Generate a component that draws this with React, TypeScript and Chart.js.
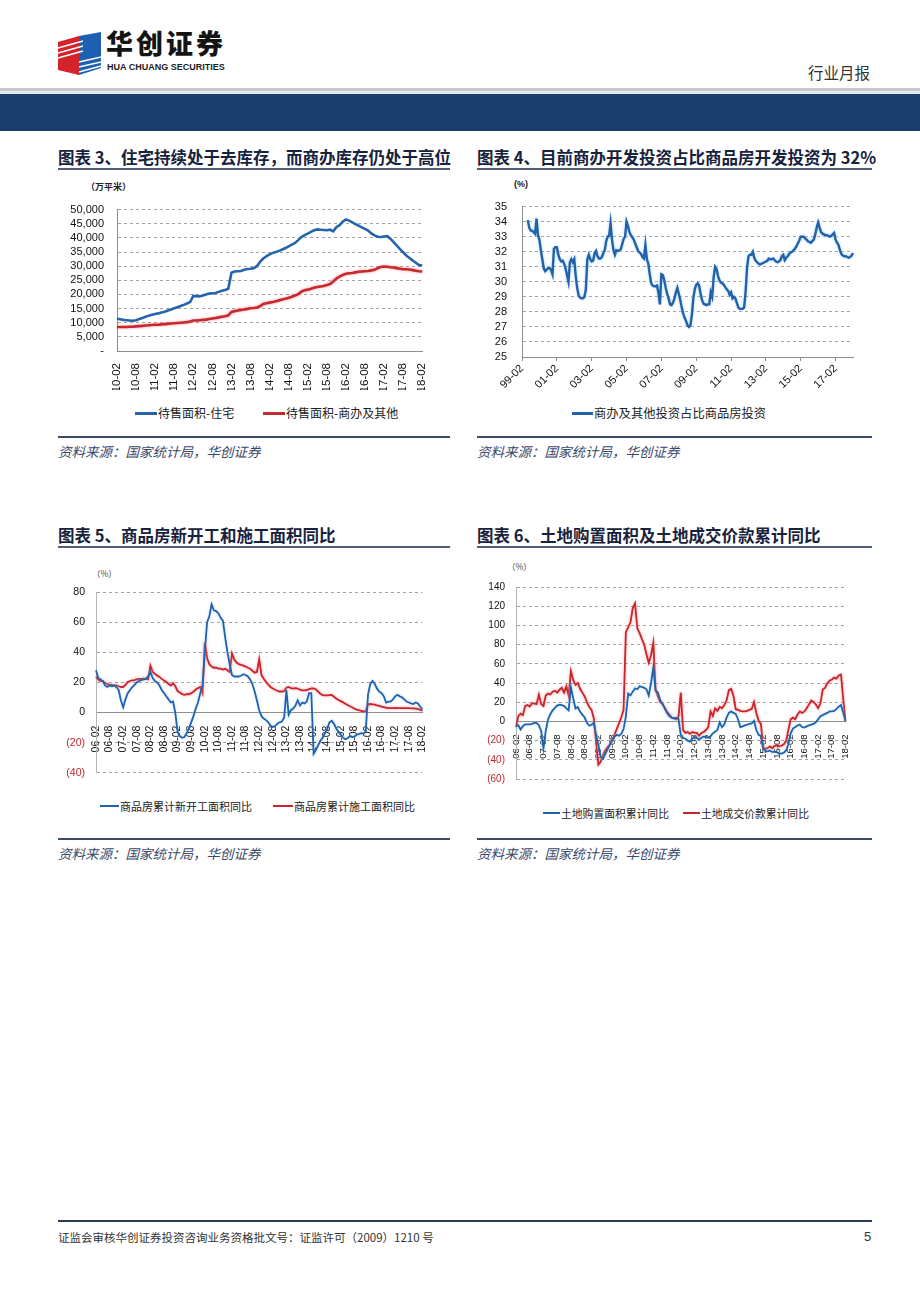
import React, { useEffect, useRef } from 'react';
import { Chart, registerables } from 'chart.js';

Chart.register(...registerables);

const NUM_FONT = '"Liberation Sans", Arial, sans-serif';
const CJK_FONT = '"Noto Sans CJK SC", "Noto Sans", sans-serif';

function monthLabels(y0: number, m0: number, y1: number, m1: number): string[] {
  const out: string[] = [];
  let y = y0, m = m0;
  while (y < y1 || (y === y1 && m <= m1)) {
    out.push(String(y % 100).padStart(2, '0') + '-' + String(m).padStart(2, '0'));
    m++;
    if (m > 12) { m = 1; y++; }
  }
  return out;
}

// ---------- Chart 3: 待售面积 (万平米), 10-02 .. 18-02 monthly ----------
const ch3Labels = monthLabels(2010, 2, 2018, 2);
const ch3Residential = [
  11400, 11200, 11000, 10900, 10800, 10700, 10900, 11300, 11700, 12100, 12500,
  12800, 13100, 13300, 13600, 13900, 14300, 14700, 15100, 15500, 15900, 16300, 16800,
  17300, 19500, 19400, 19300, 19600, 20000, 20300, 20400, 20500, 20900, 21300, 21600,
  22000, 27700, 28100, 28200, 28300, 28700, 29000, 29100, 29300, 30000, 31500, 32700,
  33500, 34200, 34700, 35000, 35400, 35900, 36400, 37000, 37600, 38200, 39200, 40300,
  41000, 41500, 42100, 42700, 43000, 42900, 42800, 42700, 42900, 42300, 43800, 44500,
  45700, 46500, 46100, 45500, 44900, 44300, 43700, 43200, 42600, 41600, 40900, 40400,
  40300, 40500, 40600, 39700, 38500, 37300, 36000, 34900, 33800, 32900, 32000, 31200,
  30400, 30200,
];
const ch3Commercial = [
  8500, 8500, 8500, 8500, 8550, 8600, 8700, 8800, 8900, 9000, 9100,
  9200, 9300, 9300, 9400, 9500, 9600, 9700, 9800, 9900, 10000, 10100, 10200,
  10400, 10800, 10800, 10900, 11000, 11100, 11300, 11500, 11700, 11900, 12100, 12300,
  12600, 13800, 14100, 14300, 14500, 14700, 14900, 15100, 15200, 15400, 15800, 16600,
  16900, 17100, 17300, 17600, 17900, 18200, 18500, 18800, 19200, 19600, 20100, 21000,
  21500, 21700, 22000, 22400, 22600, 22800, 23000, 23300, 23700, 24600, 25600, 26300,
  26900, 27300, 27500, 27600, 27800, 28000, 28100, 28200, 28300, 28500, 28700, 29300,
  29700, 29900, 29800, 29600, 29500, 29300, 29100, 28900, 28900, 28800, 28600, 28400,
  28200, 28100,
];
const ch3YTicks = [0, 5000, 10000, 15000, 20000, 25000, 30000, 35000, 40000, 45000, 50000];

// ---------- Chart 4: 商办投资占比 (%), 99-02 .. 18-02 monthly ----------
const ch4Labels = monthLabels(1999, 2, 2018, 2);
const ch4Share = [
  null, null, null, null,
  34.1, 33.6, 33.4, 33.4, 33.3, 33.2, 34.2, 33.1, 32.8, 32.1, 31.5, 30.9, 30.7, 30.8, 30.9, 30.9, 30.8, 30.5, 32.2, 32.3,
  32.3, 31.8, 31.5, 31.35, 31.4, 31.2, 30.9, 30.45, 30.0, 31.3, 31.5, 31.3,
  31.5, 30.4, 29.6, 29.1, 28.95, 28.9, 28.9, 29.0, 29.5, 31.5, 31.8, 31.5,
  31.35, 31.4, 31.9, 32.05, 31.7, 31.55, 31.55, 31.65, 31.9, 32.1, 32.7, 33.0,
  33.05, 33.9, 32.8, 32.1, 31.8, 32.1, 32.05, 32.1, 32.15, 32.5, 32.85, 33.0,
  34.0, 33.7, 33.3, 33.1, 32.95, 32.8, 32.55, 32.3, 32.05, 31.95, 31.85, 31.65,
  31.55, 32.45, 31.5, 31.2, 30.5, 29.9, 29.75, 29.7, 29.7, 29.75, 29.25, 28.5,
  30.5, 30.45, 30.1, 29.6, 29.2, 28.9, 28.5, 28.45, 28.6, 28.9, 29.3, 29.6,
  29.2, 28.8, 28.3, 27.9, 27.6, 27.4, 27.1, 27.0, 27.1, 27.8, 28.9, 29.5,
  29.8, 29.9, 29.75, 29.2, 28.8, 28.55, 28.5, 28.45, 28.5, 28.5, 29.3, 29.0,
  30.3, 31.0, 30.85, 30.4, 30.1, 29.95, 29.9, 29.8, 29.65, 29.5, 29.4, 29.15,
  29.3, 28.9, 29.0, 28.9, 28.6, 28.3, 28.2, 28.2, 28.2, 28.3, 29.3, 30.9,
  31.7, 31.8, 31.8, 32.0, 31.6, 31.4, 31.3, 31.2, 31.15, 31.2, 31.25, 31.3,
  31.35, 31.4, 31.55, 31.5, 31.5, 31.55, 31.45, 31.35, 31.3, 31.35, 31.45, 31.7,
  31.8, 31.45, 31.6, 31.7, 31.85, 31.95, 32.0, 32.1, 32.2, 32.35, 32.55, 32.75,
  33.0, 33.0, 33.0, 32.9, 32.8, 32.7, 32.65, 32.6, 32.7, 32.8, 33.15, 33.6,
  33.95, 33.6, 33.3, 33.2, 33.15, 33.1, 33.1, 33.05, 33.0, 33.05, 33.15, 33.25,
  32.8, 32.6, 32.45, 32.1, 31.85, 31.75, 31.7, 31.7, 31.65, 31.6, 31.65, 31.75,
  31.9,
];

// ---------- Chart 5: 新开工 / 施工面积同比 (%), 06-02 .. 18-02 ----------
const ch5Labels = monthLabels(2006, 2, 2018, 2);
const ch5NewStarts = [
  28.2, 23, 22, 21, 18, 17, 18, 17.5, 18, 17, 15, 8,
  3.5, 8.8, 12.9, 15, 17, 18.4, 20, 21, 21.6, 22, 22.4, 24,
  27, 23, 21, 20, 18, 15, 13, 10.8, 8.8, 6.7, 7.3, -0.4,
  -12.7, -15.7, -16.7, -16.3, -13.7, -10.6, -6.5, -2.4, 2.7, 6.7, 12.9, 18,
  40, 60, 64, 72, 68, 67.5, 66, 63, 61, 50, 40, 32,
  25, 24, 24, 24, 24.5, 25.5, 25, 24, 22, 19, 14, 8,
  1.5, -2.4, -4, -5, -6.5, -8.6, -9.6, -9, -7.5, -6.5, -6, -3.5,
  15, -1.4, 1.6, 2.7, 4.7, 8.2, 4.7, 6.7, 6.1, 7.3, 12.9, 12.9,
  -27.5, -25, -21.8, -18.8, -16.7, -13.7, -11, -6.5, -5.5, -7.5, -10.6, -12.7,
  -14.7, -16.7, -17.8, -17.1, -15.7, -16.3, -16, -14.7, -14.3, -13.7, -14, -12.7,
  11.8, 19, 21, 19, 15.9, 13.9, 12.9, 10.8, 6.7, 7.3, 7.3, 8.8,
  10.8, 11.8, 10.8, 10.2, 8.8, 7.3, 6.7, 6.1, 5.7, 6.7, 6.1, 4,
  2,
];
const ch5Construction = [
  24, 22, 21, 21, 19.6, 19, 18.4, 18.4, 18, 18, 17.5, 17,
  17, 18.4, 20.4, 21, 21.4, 21.6, 22, 22.4, 22.4, 22.6, 22.4, 22,
  31.2, 27, 25.7, 24.7, 23.7, 22.4, 21.4, 20.4, 19, 18, 19.6, 17.5,
  14.3, 13.3, 12.2, 11.8, 12.2, 12.2, 12.9, 13.9, 15.3, 16.3, 17, 12.9,
  46.5, 36.3, 32.2, 30.6, 29.8, 29.8, 29.2, 29.2, 28.6, 29.2, 28.2, 27,
  39.4, 35.3, 33.3, 32.2, 31.8, 31.2, 30.6, 29.8, 29.2, 27.8, 26.5, 27,
  35.5, 25, 22.5, 20.5, 18.5, 17, 16, 15.2, 14.5, 14, 14, 14.3,
  16.5, 17, 16.3, 16, 16.2, 16, 15.2, 14.8, 14.8, 15, 15.6, 16,
  16, 15.5, 14, 12.5, 11.6, 11.4, 11.4, 11.6, 11.8, 10.5, 9.4, 8.4,
  7.6, 6.8, 5.9, 5, 4.2, 3.5, 2.6, 2, 1.6, 1.2, 0.8, 0.8,
  5.5, 5.7, 5.5, 5.3, 4.8, 4.5, 4, 3.6, 3.2, 3, 3, 3,
  3.1, 3, 3, 3, 3, 2.9, 2.9, 2.8, 2.8, 2.6, 2.4, 1.8,
  1.2,
];

// ---------- Chart 6: 土地购置面积 / 成交价款累计同比 (%), 06-02 .. 18-02 ----------
const ch6Labels = monthLabels(2006, 2, 2018, 2);
const ch6LandArea = [
  -5, -4, -8.5, -5, -3, -3, -3, -2.5, -1.5, -1.5, -4, -10,
  -28, -10, 2, 7.5, 11.5, 14, 16.5, 17.5, 17, 16, 13.5, 11.5,
  35.5, 24, 13.5, 15, 10, 7, 4, -1.5, -4.5, -3.5, -1.5, -14,
  -25, -37, -39, -34, -29, -24.5, -19.5, -16, -14, -15, -13, -8,
  5, 29, 27, 31, 34.5, 33.5, 36.5, 36, 35, 33.5, 27, 40,
  56.5, 32, 30, 22, 18.5, 13.7, 8.8, 5.5, 4, 3.3, 3.5, 2.5,
  -14, -17, -18, -20, -21, -18, -16, -17, -19, -17, -16, -16,
  -17, -15.6, -12.4, -10.7, -9, -1, -5.9, -3.3, 3.9, 8.8, 10.4, 8.8,
  7.8, 2.3, -5.9, -5.2, -4.2, -3.3, -2.6, -2, 0.6, -9, -14, -15,
  -28.7, -31.3, -31.3, -30.3, -32, -31.3, -32, -33.5, -33.5, -32.6, -30.3, -23.8,
  -12.4, -7.5, -5.9, -4.2, -3.3, -5.9, -6.5, -5.2, -4.2, -3.3, -2.6, -1,
  2.3, 5.5, 6.5, 7.8, 8.8, 10.4, 10.4, 11, 13, 15.3, 17, 8.8,
  0,
];
const ch6LandPrice = [
  -6, 5.5, 8, 6.5, 16, 17, 15.5, 19, 18.5, 18, 28, 18,
  16, 27, 29, 28, 31, 32, 30, 33, 35, 30, 36.5, 27,
  52.5, 43, 38, 40, 34, 30, 26, 20, 15, 12, 3, -22,
  -45, -42, -35, -30, -27, -24, -20, -14, -8, -2, 4, 12,
  93, 98, 103, 118, 123, 97, 92, 86, 80, 70, 61, 69,
  82, 33, 26, 20, 18, 14, 10, 7, 4, 3, 2.3, 5,
  30, -9, -12, -11, -13, -11, -12, -12, -15, -12, -11, -9,
  -6, 10.4, 5.5, 13.7, 11, 15.3, 13.7, 17, 21.8, 32.6, 33.9, 26.7,
  12.7, 12, 11, 10.4, 10.4, 11, 12, 13, 20.2, 8.8, 0.6, -2.6,
  -27, -28.7, -27.7, -26, -28, -25.4, -24.8, -26, -25.4, -23.8, -20.5, -9,
  2.3, 3.9, 2.3, 7.2, 10.4, 8.8, 10.4, 13.7, 17.6, 21.8, 20.2, 17.6,
  13.7, 18.6, 33.2, 34.9, 39.7, 42.3, 43.6, 45.6, 44.6, 47.9, 48.9, 22,
  0,
];

// ---------- styling ----------
const GRID = '#a3a3a3';
const AXIS = '#8e8e8e';
const NEG_RED = '#c0282d';

const glowPlugin = {
  id: 'glow',
  beforeDatasetDraw(chart: any, args: any) {
    const ds = chart.data.datasets[args.index];
    if (!ds.glowColor) return;
    chart.ctx.save();
    chart.ctx.shadowColor = ds.glowColor;
    chart.ctx.shadowBlur = ds.glowBlur || 4;
  },
  afterDatasetDraw(chart: any, args: any) {
    const ds = chart.data.datasets[args.index];
    if (!ds.glowColor) return;
    chart.ctx.restore();
  },
};

const isHalfYear = (l: string) => /-(02|08)$/.test(l);
const isOddYearFeb = (l: string) => /-02$/.test(l) && parseInt(l.slice(0, 2), 10) % 2 === 1;

function lineDs(label: string, data: any[], color: string, width: number, glow?: string, blur?: number) {
  return {
    label, data, borderColor: color, backgroundColor: color, borderWidth: width,
    pointRadius: 0, tension: 0, fill: false, glowColor: glow, glowBlur: blur,
  };
}

function baseOptions(padding: any) {
  return {
    responsive: false,
    animation: false,
    layout: { padding },
    plugins: { legend: { display: false }, tooltip: { enabled: false }, title: { display: false } },
  };
}

function config3(): any {
  return {
    type: 'line',
    data: {
      labels: ch3Labels,
      datasets: [
        lineDs('待售面积-住宅', ch3Residential, '#2563ad', 2.6),
        lineDs('待售面积-商办及其他', ch3Commercial, '#c62a2e', 2.6, 'rgba(255,130,140,0.8)', 3),
      ],
    },
    options: {
      ...baseOptions({ top: 13, right: 8, left: 0, bottom: 0 }),
      scales: {
        x: {
          grid: { display: false },
          border: { display: true, color: AXIS, width: 1 },
          ticks: {
            autoSkip: false, minRotation: 90, maxRotation: 90, padding: 4,
            font: { family: NUM_FONT, size: 11.5 }, color: '#111',
            callback: (_v: any, i: number) => (isHalfYear(ch3Labels[i]) ? ch3Labels[i] : ''),
          },
          afterFit: (s: any) => { s.height = 39; },
        },
        y: {
          min: 0, max: 50000,
          afterBuildTicks: (s: any) => { s.ticks = ch3YTicks.map((v) => ({ value: v })); },
          grid: { color: GRID, drawTicks: false },
          border: { display: true, color: AXIS, dash: [3, 3] },
          ticks: {
            autoSkip: false,
            padding: 13, font: { family: NUM_FONT, size: 11 }, color: '#111',
            callback: (v: number) => (v === 0 ? '-' : v.toLocaleString('en-US')),
          },
          afterFit: (s: any) => { s.width = 57; },
        },
      },
    },
    plugins: [glowPlugin],
  };
}

function config4(): any {
  return {
    type: 'line',
    data: {
      labels: ch4Labels,
      datasets: [lineDs('商办及其他投资占比商品房投资', ch4Share, '#2461a8', 2.4, 'rgba(150,210,245,0.8)', 3)],
    },
    options: {
      ...baseOptions({ top: 12, right: 12, left: 0, bottom: 0 }),
      scales: {
        x: {
          grid: {
            display: true, drawOnChartArea: false, drawTicks: true, tickLength: 4,
            color: (c: any) => (c.index !== undefined && isOddYearFeb(ch4Labels[c.index]) ? AXIS : 'rgba(0,0,0,0)'),
          },
          border: { display: true, color: AXIS, width: 1 },
          ticks: {
            autoSkip: false, minRotation: 45, maxRotation: 45, padding: 1,
            font: { family: NUM_FONT, size: 11 }, color: '#111',
            callback: (_v: any, i: number) => (isOddYearFeb(ch4Labels[i]) ? ch4Labels[i] : ''),
          },
          afterFit: (s: any) => { s.height = 43; },
        },
        y: {
          min: 25, max: 35,
          grid: { color: GRID, drawTicks: false },
          border: { display: true, color: AXIS, dash: [3, 3] },
          ticks: { autoSkip: false, stepSize: 1, padding: 15, font: { family: NUM_FONT, size: 11 }, color: '#111' },
          afterFit: (s: any) => { s.width = 47; },
        },
      },
    },
    plugins: [glowPlugin],
  };
}

function yoyConfig(labels: string[], a: any, b: any, min: number, max: number, yWidth: number, pad: any, xFont: number, yFont: number): any {
  return {
    type: 'line',
    data: { labels, datasets: [a, b] },
    options: {
      ...baseOptions(pad),
      scales: {
        x: {
          position: { y: 0 },
          grid: { display: false },
          border: { display: true, color: AXIS, width: 1 },
          ticks: {
            autoSkip: false, minRotation: 90, maxRotation: 90, padding: 5,
            font: { family: NUM_FONT, size: xFont }, color: '#111',
            callback: (_v: any, i: number) => (isHalfYear(labels[i]) ? labels[i] : ''),
          },
          afterFit: (s: any) => { s.height = 0; },
        },
        y: {
          min, max,
          grid: { color: GRID, drawTicks: false },
          border: { display: true, color: '#b5b5b5', dash: [3, 3] },
          ticks: {
            autoSkip: false,
            stepSize: 20, padding: 11, font: { family: NUM_FONT, size: yFont },
            color: (c: any) => (c.tick && c.tick.value < 0 ? NEG_RED : '#111'),
            callback: (v: number) => (v < 0 ? '(' + -v + ')' : String(v)),
          },
          afterFit: (s: any) => { s.width = yWidth; },
        },
      },
    },
    plugins: [glowPlugin],
  };
}

function config5(): any {
  return yoyConfig(
    ch5Labels,
    lineDs('商品房累计新开工面积同比', ch5NewStarts, '#2262ad', 1.8, 'rgba(150,210,245,0.6)', 3),
    lineDs('商品房累计施工面积同比', ch5Construction, '#c8262c', 1.8, 'rgba(255,130,140,0.75)', 3),
    -40, 80, 41, { top: 11, right: 9, left: 0, bottom: 8 }, 10.5, 10.5,
  );
}

function config6(): any {
  return yoyConfig(
    ch6Labels,
    lineDs('土地购置面积累计同比', ch6LandArea, '#2262ad', 1.8, 'rgba(150,215,245,0.6)', 3),
    lineDs('土地成交价款累计同比', ch6LandPrice, '#c8262c', 1.8, 'rgba(255,130,140,0.75)', 3),
    -60, 140, 46, { top: 12, right: 10, left: 0, bottom: 8 }, 9.5, 10,
  );
}

function ChartCanvas({ left, top, width, height, make }: any) {
  const ref = useRef<HTMLCanvasElement>(null);
  useEffect(() => {
    const chart = new Chart(ref.current as HTMLCanvasElement, make());
    return () => chart.destroy();
  }, []);
  return (
    <canvas ref={ref} width={width} height={height}
      style={{ position: 'absolute', left, top, width, height, display: 'block' }} />
  );
}

function Abs({ l, t, children, style }: any) {
  return <div style={{ position: 'absolute', left: l, top: t, whiteSpace: 'nowrap', ...style }}>{children}</div>;
}

function Title({ l, t, w, text }: any) {
  return (
    <>
      <Abs l={l} t={t} style={{ fontFamily: CJK_FONT, fontWeight: 700, fontSize: 16.5, lineHeight: '20px', color: '#17223d' }}>{text}</Abs>
      <div style={{ position: 'absolute', left: l, top: t + 21, width: w, height: 2, background: '#4f5d78' }} />
    </>
  );
}

function Source({ l, t, w }: any) {
  return (
    <>
      <div style={{ position: 'absolute', left: l, top: t, width: w, height: 1.5, background: '#3d4a66' }} />
      <Abs l={l} t={t + 7} style={{ fontFamily: CJK_FONT, fontStyle: 'italic', fontSize: 13.5, lineHeight: '16px', color: '#3b4a6b' }}>
        资料来源：国家统计局，华创证券
      </Abs>
    </>
  );
}

function LegendItem({ x, y, len, color, text, size, thick }: any) {
  return (
    <>
      <div style={{ position: 'absolute', left: x, top: y - thick / 2, width: len, height: thick, background: color }} />
      <Abs l={x + len + 1} t={y - 8} style={{ fontFamily: CJK_FONT, fontSize: size, lineHeight: '16px', color: '#222' }}>{text}</Abs>
    </>
  );
}

function Logo() {
  return (
    <svg style={{ position: 'absolute', left: 57, top: 32 }} width={46} height={45} viewBox="0 0 46 45">
      <polygon points="1,10 22,4 22,43 1,38" fill="#d4232b" />
      <polygon points="22,4 44,0 44,36 22,43" fill="#1d5fb0" />
      <g stroke="#ffffff" strokeWidth={1.3}>
        <line x1="1" y1="16" x2="26" y2="9" />
        <line x1="1" y1="21" x2="26" y2="14" />
        <line x1="1" y1="26" x2="26" y2="19" />
        <line x1="22" y1="30" x2="44" y2="25" />
        <line x1="22" y1="35" x2="44" y2="30" />
        <line x1="22" y1="40" x2="44" y2="34" />
      </g>
    </svg>
  );
}

export default function App() {
  return (
    <div style={{ position: 'absolute', left: 0, top: 0, width: 920, height: 1302, background: '#fff', overflow: 'hidden' }}>
      {/* header */}
      <Logo />
      <Abs l={106} t={26} style={{ fontFamily: CJK_FONT, fontWeight: 900, fontSize: 27, lineHeight: '34px', letterSpacing: 3, color: '#141414' }}>华创证券</Abs>
      <Abs l={107} t={62} style={{ fontFamily: NUM_FONT, fontWeight: 700, fontSize: 9, lineHeight: '11px', color: '#1c1c1c' }}>HUA CHUANG SECURITIES</Abs>
      <Abs l={808} t={62} style={{ fontFamily: CJK_FONT, fontSize: 15.5, lineHeight: '20px', color: '#333' }}>行业月报</Abs>
      <div style={{ position: 'absolute', left: 0, top: 88, width: 920, height: 3, background: '#c6c8cc' }} />
      <div style={{ position: 'absolute', left: 0, top: 91, width: 920, height: 3, background: '#e4eaf2' }} />
      <div style={{ position: 'absolute', left: 0, top: 94, width: 920, height: 37, background: '#1b3d6c' }} />

      {/* chart 3 */}
      <Title l={58} t={147} w={392} text="图表 3、住宅持续处于去库存，而商办库存仍处于高位" />
      <Abs l={86} t={181} style={{ fontFamily: CJK_FONT, fontWeight: 700, fontSize: 9, lineHeight: '12px', color: '#222' }}>（万平米）</Abs>
      <ChartCanvas left={60} top={190} width={380} height={200} make={config3} />
      <LegendItem x={135} y={413} len={22} color="#2563ad" text="待售面积-住宅" size={12} thick={3} />
      <LegendItem x={263} y={413} len={22} color="#c62a2e" text="待售面积-商办及其他" size={12} thick={3} />
      <Source l={58} t={436} w={392} />

      {/* chart 4 */}
      <Title l={477} t={147} w={395} text="图表 4、目前商办开发投资占比商品房开发投资为 32%" />
      <Abs l={514} t={178} style={{ fontFamily: NUM_FONT, fontWeight: 700, fontSize: 9, lineHeight: '12px', color: '#222' }}>(%)</Abs>
      <ChartCanvas left={475} top={185} width={390} height={215} make={config4} />
      <LegendItem x={572} y={413} len={21} color="#2461a8" text="商办及其他投资占比商品房投资" size={12.3} thick={3} />
      <Source l={477} t={436} w={395} />

      {/* chart 5 */}
      <Title l={58} t={525} w={392} text="图表 5、商品房新开工和施工面积同比" />
      <Abs l={92} t={567} style={{ fontFamily: CJK_FONT, fontSize: 8.5, lineHeight: '12px', color: '#444' }}>（%）</Abs>
      <ChartCanvas left={55} top={575} width={385} height={215} make={config5} />
      <LegendItem x={100} y={806} len={19} color="#2262ad" text="商品房累计新开工面积同比" size={11} thick={2.5} />
      <LegendItem x={273} y={806} len={20} color="#c8262c" text="商品房累计施工面积同比" size={11} thick={2.5} />
      <Source l={58} t={838} w={392} />

      {/* chart 6 */}
      <Title l={477} t={525} w={395} text="图表 6、土地购置面积及土地成交价款累计同比" />
      <Abs l={507} t={560} style={{ fontFamily: CJK_FONT, fontSize: 8.5, lineHeight: '12px', color: '#444' }}>（%）</Abs>
      <ChartCanvas left={470} top={570} width={392} height={226} make={config6} />
      <LegendItem x={543} y={813} len={17} color="#2262ad" text="土地购置面积累计同比" size={10.8} thick={2.5} />
      <LegendItem x={683} y={813} len={17} color="#c8262c" text="土地成交价款累计同比" size={10.8} thick={2.5} />
      <Source l={477} t={838} w={395} />

      {/* footer */}
      <div style={{ position: 'absolute', left: 58, top: 1220, width: 814, height: 2, background: '#2c3a56' }} />
      <Abs l={58} t={1229} style={{ fontFamily: CJK_FONT, fontSize: 11.5, lineHeight: '16px', color: '#333' }}>
        证监会审核华创证券投资咨询业务资格批文号：证监许可（2009）1210 号
      </Abs>
      <Abs l={864} t={1228} style={{ fontFamily: NUM_FONT, fontSize: 13, lineHeight: '17px', color: '#333' }}>5</Abs>
    </div>
  );
}
